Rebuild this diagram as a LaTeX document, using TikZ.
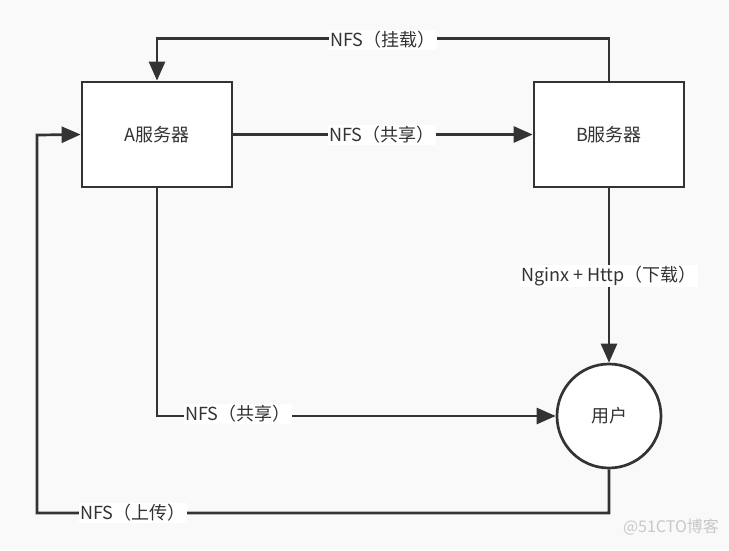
\documentclass[tikz,border=0pt]{standalone}
\usepackage{fontspec}
\setmainfont{Noto Sans CJK SC}
\usetikzlibrary{arrows.meta}
\definecolor{bgc}{HTML}{F9F9F9}
\definecolor{linec}{HTML}{333333}
\definecolor{wmc}{HTML}{C8C8C8}
\begin{document}
\begin{tikzpicture}[x=1pt,y=-1pt,
  line width=2.7pt,
  box/.style={draw=linec, fill=white, minimum width=150pt, minimum height=105pt, inner sep=0pt, font=\fontsize{18}{21}\selectfont, text=linec},
  usr/.style={draw=linec, fill=white, circle, minimum size=104pt, inner sep=0pt, font=\fontsize{18}{21}\selectfont, text=linec},
  conn/.style={draw=linec, line width=2.7pt, -{Triangle[length=19pt,width=16pt]}},
  lbl/.style={fill=white, inner sep=1pt, font=\fontsize{18}{21}\selectfont, text=linec},
  wm/.style={inner sep=0pt, font=\fontsize{16}{18}\selectfont, text=wmc}
]
\fill[bgc] (0,0) rectangle (729,550);
\useasboundingbox (0,0) rectangle (729,550);

\node[box] (A) at (157,134.5) {A服务器};
\node[box] (B) at (609,134.5) {B服务器};
\node[usr] (U) at (609,416) {用户};

% top: B -> A (mount)
\draw[conn] (B.north) -- ++(0,-42) -| (A.north);
\node[lbl] (l1) at (383,40) {NFS（挂载）};

% middle: A -> B (share)
\draw[conn] (A.east) -- (B.west);
\node[lbl] (l2) at (382,135) {NFS（共享）};

% B -> user (download)
\draw[conn] (B.south) -- (U.north);
\node[lbl] (l3) at (609,276) {Nginx + Http（下载）};

% A -> user (share)
\draw[conn] (A.south) |- (U.west);
\node[lbl, anchor=west] (l4) at (183,414) {NFS（共享）};

% user -> A (upload)
\coordinate (c1) at (609,513);
\coordinate (c2) at (37,513);
\coordinate (c3) at (37,135);
\draw[conn] (U.south) -- (c1) -- (c2) -- (c3) -- (A.west);
\node[lbl, anchor=west] (l5) at (78,513) {NFS（上传）};

\node[wm] (w) at (671,527) {@51CTO博客};
\end{tikzpicture}
\end{document}
